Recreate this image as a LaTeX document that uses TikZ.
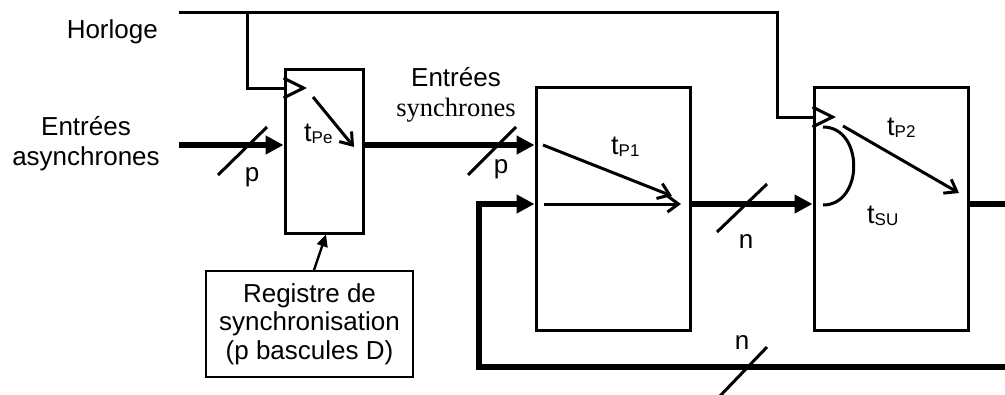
\documentclass[tikz,border=0pt]{standalone}
\usepackage{fontspec}
\setmainfont{Liberation Sans}
\newfontfamily\serifface{Liberation Serif}
\usetikzlibrary{arrows.meta,calc}

% delay label: "t" with a small subscript
\newcommand\tlab[1]{{\fontsize{27}{27}\selectfont t}\raisebox{-2.5pt}{\fontsize{17}{17}\selectfont #1}}

\tikzset{
  wire/.style={line width=3pt, line join=miter},
  bus/.style={line width=6pt, line join=miter},
  busarrow/.style={bus, -{Triangle[length=18pt,width=18pt]}},
  delay/.style={wire, -{Straight Barb[length=11pt,width=16pt,line width=3pt]}},
  regbox/.style={draw, line width=3pt, rectangle, inner sep=0pt},
  lbl/.style={inner sep=0pt, font=\fontsize{26}{30}\selectfont},
}

\begin{document}
\begin{tikzpicture}[x=1pt, y=-1pt]
  \useasboundingbox (0,0) rectangle (1005,394);

  % registers
  \node[regbox, minimum width=78pt, minimum height=164pt] (syncreg) at (324,151) {};
  \node[regbox, minimum width=154pt, minimum height=243pt] (reg1) at (613,208.5) {};
  \node[regbox, minimum width=154pt, minimum height=243pt] (reg2) at (891,208.5) {};
  \node[regbox, line width=1.8pt, minimum width=207pt, minimum height=106pt, align=center,
        font=\fontsize{26}{28.5}\selectfont] (regnote) at (309.5,324)
        {Registre de\\synchronisation\\(p bascules D)};

  % free ends and levels
  \coordinate (clkin) at (179,12);
  \coordinate (clktap) at (247,12);
  \coordinate (clkturn) at (777,12);
  \coordinate (asyncin) at (179,145);
  \coordinate (ckA) at (0,88);
  \coordinate (ckB) at (0,117);
  \coordinate (qlevel) at (0,204);
  \coordinate (qout) at (1005,204);
  \coordinate (fbR) at (1005,367);
  \coordinate (fbL) at (479,367);

  % labels
  \node[lbl, anchor=base east] (horloge) at (158,38) {Horloge};
  \node[lbl, anchor=base] (asynclbl) at (86,135)
    {\begin{tabular}[t]{@{}c@{}}Entrées\\asynchrones\end{tabular}};
  \node[lbl, anchor=base] (synclbl) at (456,86)
    {\begin{tabular}[t]{@{}c@{}}Entrées\\{\serifface\fontsize{26.5}{30}\selectfont synchrones}\end{tabular}};

  % clock distribution
  \draw[wire] (clkin) -- (clkturn) |- (reg2.west |- ckB);
  \draw[wire] (clktap) |- (syncreg.west |- ckA);
  \draw[wire] ($(syncreg.west |- ckA)+(0,-10)$) -- ++(20,10) -- ++(-20,10);
  \draw[wire] ($(reg2.west |- ckB)+(0,-10)$) -- ++(20,10) -- ++(-20,10);

  % data paths
  \draw[busarrow] (asyncin) -- (syncreg.west |- asyncin);
  \draw[busarrow] (syncreg.east |- asyncin) -- (reg1.west |- asyncin);
  \draw[busarrow] (reg1.east |- qlevel) -- (reg2.west |- qlevel);
  \draw[bus] (reg2.east |- qlevel) -- (qout);
  \draw[busarrow] (fbR) -- (fbL) |- (reg1.west |- qlevel);

  % bus width marks
  \draw[wire] (218,175) -- (267,127);
  \node[lbl, anchor=base] (pA) at (252,181) {p};
  \draw[wire] (468,175) -- (516,127);
  \node[lbl, anchor=base] (pB) at (501,173.5) {p};
  \draw[wire] (717,232) -- (767,184);
  \node[lbl, anchor=base] (nA) at (746,248) {n};
  \draw[wire] (720,396) -- (767,347);
  \node[lbl, anchor=base] (nB) at (742,349) {n};

  % note arrow
  \draw[line width=2.4pt, -{Triangle[length=12pt,width=11pt]}]
    ($(regnote.north)+(4.5,0)$) -- (syncreg.south -| 326,0);

  % propagation and setup times
  \draw[delay] (313,97) -- (354,147);
  \node[anchor=base west, inner sep=0pt] (tpe) at (304,141) {\tlab{Pe}};
  \draw[delay] (543,145) -- (672,196);
  \draw[delay] (544,204) -- (681,204);
  \node[anchor=base west, inner sep=0pt] (tp1) at (611,154) {\tlab{P1}};
  \draw[delay] (843,126) -- (959,193);
  \node[anchor=base west, inner sep=0pt] (tp2) at (887,135) {\tlab{P2}};
  \draw[wire] (823,127) .. controls (864,127) and (864,205) .. (823,205);
  \node[anchor=base west, inner sep=0pt] (tsu) at (867,223) {\tlab{SU}};
\end{tikzpicture}
\end{document}
